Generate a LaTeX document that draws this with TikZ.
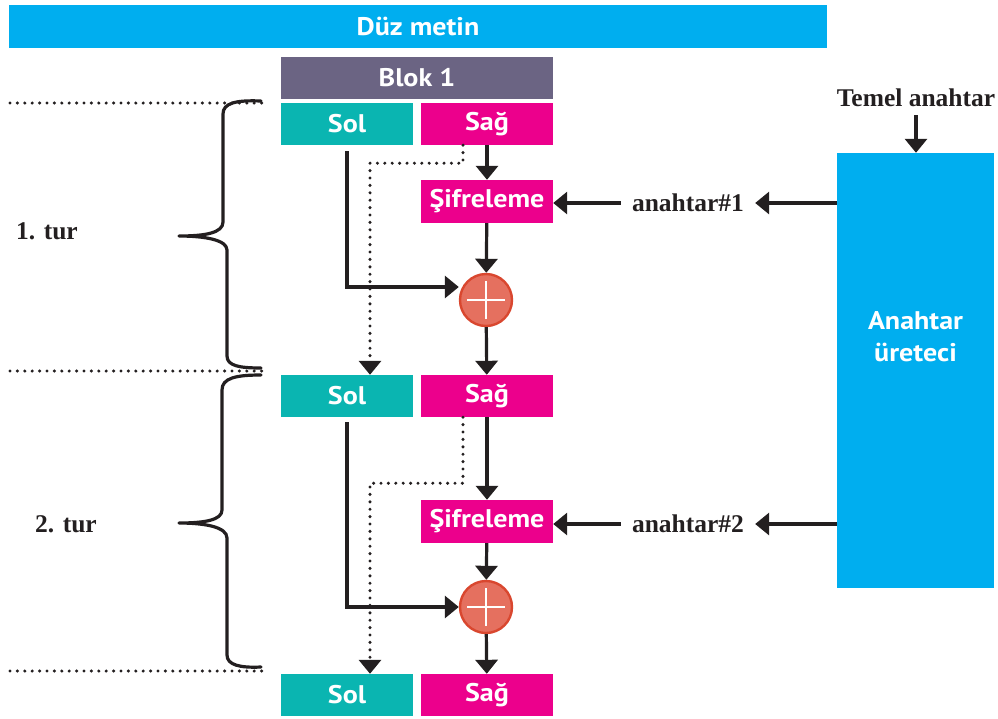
\documentclass[tikz,border=0pt]{standalone}
\usepackage{fontspec}
\setmainfont{Liberation Serif}
\newfontfamily\boxfont[FakeStretch=1.1]{PT Sans}
\usetikzlibrary{arrows.meta}
\definecolor{cyanbar}{HTML}{00AEEF}
\definecolor{blokcol}{HTML}{6B6483}
\definecolor{tealcol}{HTML}{0AB5B1}
\definecolor{magcol}{HTML}{EC008C}
\definecolor{xorfill}{HTML}{E5705F}
\definecolor{xordraw}{HTML}{D9472F}
\definecolor{inkcol}{HTML}{231F20}
\tikzset{
  boxbase/.style={rectangle, inner sep=0pt, text=white, font=\boxfont\bfseries\fontsize{25.5}{32}\selectfont},
  solbox/.style={boxbase, fill=tealcol, minimum width=132pt, minimum height=42pt},
  sagbox/.style={boxbase, fill=magcol, minimum width=132pt, minimum height=42pt},
  sifbox/.style={boxbase, fill=magcol, minimum width=132pt, minimum height=43pt},
  xornode/.style={circle, fill=xorfill, draw=xordraw, line width=2.4pt, minimum size=52pt, inner sep=0pt},
  serlabel/.style={text=inkcol, font=\bfseries\fontsize{25.5}{30}\selectfont, inner sep=0pt},
  keylabel/.style={serlabel, inner xsep=11pt},
  arr/.style={draw=inkcol, line width=3.2pt, -{Triangle[width=22pt,length=14pt]}},
  dotline/.style={draw=inkcol, line width=3.4pt, line cap=round, dash pattern=on 0pt off 7.4pt},
  dotarr/.style={dotline, -{Triangle[width=22pt,length=14pt]}},
  bracestyle/.style={draw=inkcol, line width=3.2pt, line cap=round, line join=round}
}
\begin{document}
\begin{tikzpicture}[x=1pt,y=-1pt]
\useasboundingbox (0,0) rectangle (998,718);
% top bars
\node[boxbase, fill=cyanbar, minimum width=818pt, minimum height=43pt] (duz) at (418,26.5) {Düz metin};
\node[boxbase, fill=blokcol, minimum width=272pt, minimum height=42pt] (blok) at (417,78) {Blok 1};
% round boxes
\node[solbox] (sol1) at (347,124) {Sol};
\node[sagbox] (sag1) at (487,124) {Sağ};
\node[sifbox] (sif1) at (487,201.5) {Şifreleme};
\node[xornode] (xor1) at (486,300) {};
\node[solbox] (sol2) at (347,396) {Sol};
\node[sagbox] (sag2) at (487,396) {Sağ};
\node[sifbox] (sif2) at (487,521.5) {Şifreleme};
\node[xornode] (xor2) at (486,607) {};
\node[solbox] (sol3) at (347,695) {Sol};
\node[sagbox] (sag3) at (487,695) {Sağ};
% plus signs
\foreach \c in {xor1,xor2}{
  \draw[white, line width=2.4pt] ([xshift=-19pt]\c.center) -- ([xshift=19pt]\c.center);
  \draw[white, line width=2.4pt] ([yshift=-19pt]\c.center) -- ([yshift=19pt]\c.center);
}
% key generator
\node[rectangle, fill=cyanbar, minimum width=157pt, minimum height=435pt, inner sep=0pt] (gen) at (915.5,370.5) {};
\node[boxbase, align=center] (gentext) at (915.5,337) {Anahtar\\üreteci};
\node[serlabel, inner ysep=8pt] (temel) at (916,98) {Temel anahtar};
\node[keylabel] (key1) at (688,203) {anahtar\#1};
\node[keylabel] (key2) at (688,524) {anahtar\#2};
% key arrows
\draw[arr] (temel.south) -- (temel.south |- gen.north);
\draw[arr] (gen.west |- key1) -- (key1.east);
\draw[arr] (key1.west) -- (key1.west -| sif1.east);
\draw[arr] (gen.west |- key2) -- (key2.east);
\draw[arr] (key2.west) -- (key2.west -| sif2.east);
% round 1 connectors
\draw[arr] (sag1) -- (sif1);
\draw[arr] (sif1) -- (xor1);
\draw[arr] (xor1) -- (sag2);
\draw[arr] ([yshift=-6pt]sol1.south) |- ([yshift=13pt]xor1.west);
\draw[dotarr] ([xshift=-24pt]sag1.south) -- ++(0,18) -| ([xshift=23pt]sol2.north);
% round 2 connectors
\draw[arr] (sag2) -- (sif2);
\draw[arr] (sif2) -- (xor2);
\draw[arr] (xor2) -- (sag3);
\draw[arr] ([yshift=-5pt]sol2.south) |- (xor2.west);
\draw[dotarr] ([xshift=-24pt]sag2.south) -- ++(0,66) -| ([xshift=23pt]sol3.north);
% separators
\draw[dotline] (10,103) -- (263,103);
\draw[dotline] (10,371) -- (263,371);
\draw[dotline] (10,671) -- (263,671);
% braces
\draw[bracestyle] (261,101) .. controls (236,100) and (223,103) .. (223,114) -- (223,222)
  .. controls (223,233) and (205,236) .. (179,236)
  .. controls (205,236) and (227,240) .. (227,250) -- (227,356)
  .. controls (227,366) and (240,368) .. (261,368);
\draw[bracestyle] (261,375) .. controls (236,375) and (222,378) .. (222,390) -- (222,510)
  .. controls (222,520) and (205,523) .. (179,523)
  .. controls (205,523) and (227,527) .. (227,538) -- (227,655)
  .. controls (227,665) and (240,668) .. (261,667);
\node[serlabel] (tur1) at (47,231) {1. tur};
\node[serlabel] (tur2) at (66,524) {2. tur};
\end{tikzpicture}
\end{document}
